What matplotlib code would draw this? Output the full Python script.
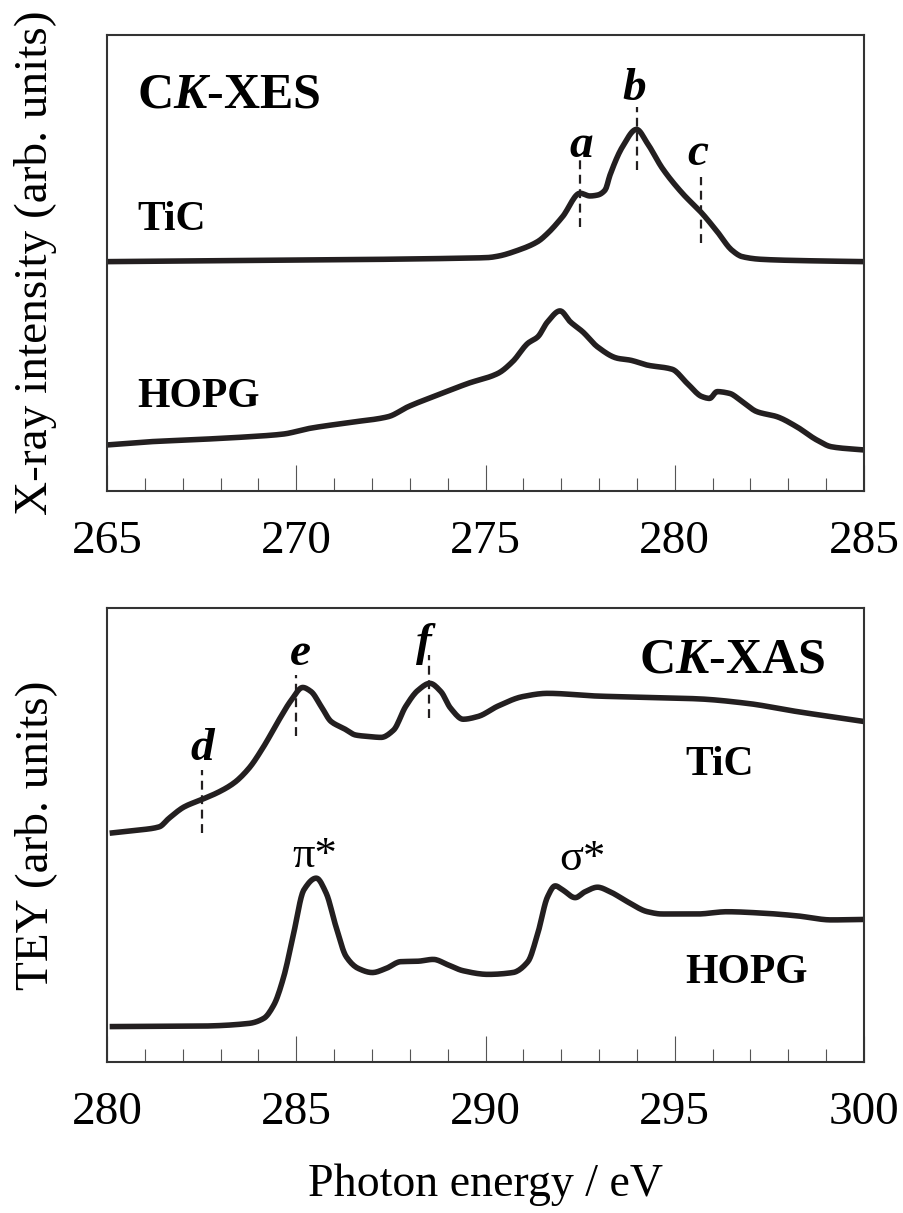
import matplotlib
matplotlib.use("Agg")
import matplotlib.pyplot as plt
import numpy as np

plt.rcParams['font.family'] = ['Liberation Serif', 'DejaVu Serif']
plt.rcParams['mathtext.fontset'] = 'custom'
plt.rcParams['mathtext.rm'] = 'Liberation Serif:bold'
plt.rcParams['mathtext.it'] = 'Liberation Serif:italic:bold'
plt.rcParams['mathtext.bf'] = 'Liberation Serif:bold'

# ---------------- data (arbitrary units, 0-100 panel scale) ----------------
# C K-XES, TiC
xes_tic_E = [265.0, 268.0, 271.0, 274.0, 275.07, 275.33, 275.86, 276.38, 276.64, 277.04,
             277.5, 277.76, 277.96, 278.16, 278.29, 278.62, 278.99, 279.28, 279.67,
             280.2, 280.72, 281.12, 281.51, 281.78, 282.3, 283.5, 285.0]
xes_tic_I = [50.3, 50.5, 50.7, 51.0, 51.2, 51.5, 52.8, 54.7, 56.5, 60.2,
             65.3, 64.7, 64.9, 66.0, 69.3, 75.5, 79.3, 76.2, 70.8,
             65.3, 60.9, 56.9, 52.8, 51.4, 50.8, 50.5, 50.3]

# C K-XES, HOPG
xes_hopg_E = [265.0, 266.12, 267.43, 268.75, 269.67, 270.33, 271.38, 272.43, 272.96, 273.75,
              274.54, 275.33, 275.72, 276.12, 276.38, 276.64, 276.97, 277.24, 277.57,
              277.96, 278.49, 278.82, 279.28, 279.93, 280.33, 280.72, 280.92, 281.12,
              281.45, 281.78, 282.17, 282.7, 283.22, 283.75, 284.14, 285.0]
xes_hopg_I = [10.1, 10.8, 11.3, 11.9, 12.5, 13.7, 15.0, 16.3, 18.5, 21.1,
              23.6, 25.8, 28.4, 32.4, 33.8, 37.1, 39.5, 37.1, 34.9,
              31.6, 29.1, 28.7, 27.6, 26.7, 23.6, 20.7, 20.3, 21.8,
              21.4, 19.6, 17.4, 16.3, 14.1, 11.2, 9.7, 9.0]

# C K-XAS, TiC
xas_tic_E = [280.07, 280.86, 281.38, 281.64, 282.04, 282.5, 282.96, 283.36, 283.75, 284.14,
             284.54, 284.87, 285.17, 285.39, 285.66, 285.92, 286.25, 286.58, 286.91,
             287.24, 287.57, 287.89, 288.22, 288.53, 288.82, 289.08, 289.41, 289.8,
             290.33, 290.99, 291.64, 292.96, 294.28, 295.59, 296.91, 298.22, 300.0]
xas_tic_I = [50.4, 51.1, 51.8, 53.7, 56.2, 57.8, 59.5, 61.5, 64.7, 69.5,
             75.3, 79.7, 82.5, 81.6, 78.3, 75.0, 73.5, 72.0, 71.7,
             71.5, 73.1, 78.3, 81.9, 83.4, 81.6, 77.9, 75.5, 76.1,
             78.4, 80.5, 81.2, 80.6, 80.3, 80.0, 79.0, 77.2, 75.0]

# C K-XAS, HOPG
xas_hopg_E = [280.07, 282.43, 283.75, 284.14, 284.41, 284.67, 284.93, 285.2, 285.53, 285.79,
              286.05, 286.32, 286.64, 287.01, 287.37, 287.76, 288.22, 288.62, 289.01,
              289.41, 290.07, 290.72, 291.12, 291.38, 291.64, 291.84, 292.04, 292.37,
              292.63, 292.96, 293.29, 293.75, 294.28, 294.67, 295.59, 296.38, 297.3,
              298.22, 299.14, 300.0]
xas_hopg_I = [7.8, 7.9, 8.5, 9.6, 12.6, 18.8, 28.3, 37.9, 40.5, 37.2,
              29.8, 23.2, 20.6, 19.7, 20.6, 22.1, 22.2, 22.6, 21.4,
              20.1, 19.3, 19.7, 22.1, 28.3, 36.4, 38.8, 37.9, 36.2,
              37.5, 38.5, 37.5, 35.3, 33.1, 32.6, 32.6, 33.1, 32.8,
              32.2, 31.3, 31.4]

# marker energies (dashed lines)
xes_marks = ['a', 'b', 'c']
xes_mark_E = [277.5, 279.0, 280.7]
xas_marks = ['d', 'e', 'f']
xas_mark_E = [282.5, 285.0, 288.5]

# ---------------- figure ----------------
W, H = 904, 1213
fig = plt.figure(figsize=(W / 100, H / 100), dpi=100)
L, R = 107, 864
ax1 = fig.add_axes([L / W, 1 - 491 / H, (R - L) / W, 456 / H])
ax2 = fig.add_axes([L / W, 1 - 1062 / H, (R - L) / W, 454 / H])

line_col = '#231f20'
lw = 4.0


def smooth(xs, ys, n=600):
    xs = np.asarray(xs, float)
    ys = np.asarray(ys, float)
    # monotone cubic (PCHIP) interpolation for a smooth trace through read points
    h = np.diff(xs)
    d = np.diff(ys) / h
    m = np.zeros_like(ys)
    for k in range(1, len(xs) - 1):
        if d[k - 1] * d[k] > 0:
            w1 = 2 * h[k] + h[k - 1]
            w2 = h[k] + 2 * h[k - 1]
            m[k] = (w1 + w2) / (w1 / d[k - 1] + w2 / d[k])
    m[0] = d[0]
    m[-1] = d[-1]
    xn = np.linspace(xs[0], xs[-1], n)
    idx = np.clip(np.searchsorted(xs, xn) - 1, 0, len(xs) - 2)
    t = (xn - xs[idx]) / h[idx]
    h00 = 2 * t**3 - 3 * t**2 + 1
    h10 = t**3 - 2 * t**2 + t
    h01 = -2 * t**3 + 3 * t**2
    h11 = t**3 - t**2
    yn = h00 * ys[idx] + h10 * h[idx] * m[idx] + h01 * ys[idx + 1] + h11 * h[idx] * m[idx + 1]
    return xn, yn


for ax, (x0, x1) in ((ax1, (265, 285)), (ax2, (280, 300))):
    ax.set_xlim(x0, x1)
    ax.set_ylim(0, 100)
    ax.set_yticks([])
    ax.set_xticks(np.arange(x0, x1 + 0.1, 5))
    ax.set_xticks(np.arange(x0, x1 + 0.1, 1), minor=True)
    ax.tick_params(axis='x', which='major', direction='in', length=19, width=0.8,
                   color='#555555', labelsize=34, pad=21, top=False)
    ax.tick_params(axis='x', which='minor', direction='in', length=9.5, width=0.8,
                   color='#555555', top=False)
    for sp in ax.spines.values():
        sp.set_linewidth(1.5)
        sp.set_color('#333333')

for ax, E, I in ((ax1, xes_tic_E, xes_tic_I), (ax1, xes_hopg_E, xes_hopg_I),
                 (ax2, xas_tic_E, xas_tic_I), (ax2, xas_hopg_E, xas_hopg_I)):
    ax.plot(*smooth(E, I), color=line_col, lw=lw, solid_joinstyle='round',
            solid_capstyle='butt')

dash = dict(color=line_col, lw=1.6, linestyle=(0, (4, 2.5)))
xes_spans = [(58.0, 73.7), (70.4, 84.3), (54.3, 68.9)]
for e, (y0, y1) in zip(xes_mark_E, xes_spans):
    ax1.plot([e, e], [y0, y1], **dash)
xas_spans = [(50.4, 64.3), (71.7, 85.2), (75.8, 89.6)]
for e, (y0, y1) in zip(xas_mark_E, xas_spans):
    ax2.plot([e, e], [y0, y1], **dash)

# ---------------- text ----------------
bold = dict(fontweight='bold', va='baseline', color='black')
ax1.text(0.0396, 0.840, r'C$K$-XES', fontsize=36, transform=ax1.transAxes, **bold)
ax1.text(0.0396, 0.572, 'TiC', fontsize=30, transform=ax1.transAxes, **bold)
ax1.text(0.0396, 0.184, 'HOPG', fontsize=30, transform=ax1.transAxes, **bold)

ax2.text(0.9485, 0.859, r'C$K$-XAS', fontsize=36, ha='right', transform=ax2.transAxes, **bold)
ax2.text(0.7635, 0.632, 'TiC', fontsize=30, transform=ax2.transAxes, **bold)
ax2.text(0.7635, 0.174, 'HOPG', fontsize=30, transform=ax2.transAxes, **bold)

it = dict(fontweight='bold', fontstyle='italic', va='baseline', ha='center', fontsize=34)
for lab, pos in zip(xes_marks, [(0.626, 0.732), (0.697, 0.857), (0.781, 0.715)]):
    ax1.text(pos[0], pos[1], lab, transform=ax1.transAxes, **it)
for lab, pos in zip(xas_marks, [(0.1255, 0.665), (0.255, 0.874), (0.419, 0.896)]):
    ax2.text(pos[0], pos[1], lab, transform=ax2.transAxes, **it)

ax2.text(0.275, 0.4295, 'π*', fontsize=32, ha='center', va='baseline', transform=ax2.transAxes)
ax2.text(0.6275, 0.423, 'σ*', fontsize=32, ha='center', va='baseline', transform=ax2.transAxes)

fig.text(36 / W, 1 - 263 / H, 'X-ray intensity (arb. units)', rotation=90,
         ha='center', va='center', fontsize=34)
fig.text(36 / W, 1 - 835 / H, 'TEY (arb. units)', rotation=90,
         ha='center', va='center', fontsize=34)
fig.text((L + R) / 2 / W, 1 - 1185 / H, 'Photon energy / eV', ha='center', va='center',
         fontsize=33)

fig.savefig('out.png', dpi=100)
